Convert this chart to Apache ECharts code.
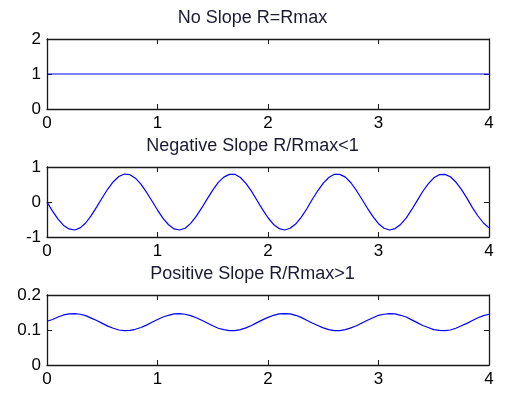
<!DOCTYPE html>
<html>
<head>
<meta charset="utf-8">
<script src="https://cdn.jsdelivr.net/npm/echarts@6/dist/echarts.min.js"></script>
<style>
  html, body { margin: 0; padding: 0; background: #fff; }
  #chart { width: 505px; height: 394px; }
</style>
</head>
<body>
<div id="chart"></div>
<script>
var titles = ['No Slope R=Rmax', 'Negative Slope R/Rmax<1', 'Positive Slope R/Rmax>1'];
var xTicks = [0, 1, 2, 3, 4];

// x samples
var xs = [0, 0.05, 0.1, 0.15, 0.2, 0.25, 0.3, 0.35, 0.4, 0.45,
  0.5, 0.55, 0.6, 0.65, 0.7, 0.75, 0.8, 0.85, 0.9, 0.95,
  1, 1.05, 1.1, 1.15, 1.2, 1.25, 1.3, 1.35, 1.4, 1.45,
  1.5, 1.55, 1.6, 1.65, 1.7, 1.75, 1.8, 1.85, 1.9, 1.95,
  2, 2.05, 2.1, 2.15, 2.2, 2.25, 2.3, 2.35, 2.4, 2.45,
  2.5, 2.55, 2.6, 2.65, 2.7, 2.75, 2.8, 2.85, 2.9, 2.95,
  3, 3.05, 3.1, 3.15, 3.2, 3.25, 3.3, 3.35, 3.4, 3.45,
  3.5, 3.55, 3.6, 3.65, 3.7, 3.75, 3.8, 3.85, 3.9, 3.95, 4];

// top panel
var flatX = [0, 4];
var flatY = [1, 1];

// middle panel
var negY = [0, -0.26, -0.49, -0.67, -0.77, -0.80, -0.74, -0.60, -0.39, -0.14,
  0.12, 0.37, 0.58, 0.73, 0.80, 0.78, 0.68, 0.51, 0.28, 0.03,
  -0.23, -0.47, -0.65, -0.77, -0.80, -0.75, -0.61, -0.41, -0.17, 0.09,
  0.34, 0.56, 0.71, 0.79, 0.79, 0.70, 0.53, 0.31, 0.05, -0.21,
  -0.45, -0.64, -0.76, -0.80, -0.75, -0.63, -0.44, -0.20, 0.07, 0.32,
  0.54, 0.70, 0.79, 0.79, 0.71, 0.55, 0.33, 0.08, -0.18, -0.42,
  -0.62, -0.75, -0.80, -0.76, -0.64, -0.46, -0.22, 0.04, 0.30, 0.52,
  0.69, 0.78, 0.79, 0.72, 0.57, 0.36, 0.11, -0.16, -0.40, -0.60, -0.74];

// bottom panel
var posY = [0.125, 0.130, 0.137, 0.143, 0.146, 0.147, 0.145, 0.141, 0.134, 0.127,
  0.119, 0.111, 0.105, 0.100, 0.098, 0.099, 0.102, 0.107, 0.114, 0.122,
  0.130, 0.137, 0.142, 0.146, 0.147, 0.145, 0.141, 0.135, 0.128, 0.120,
  0.112, 0.105, 0.101, 0.098, 0.098, 0.101, 0.106, 0.113, 0.121, 0.129,
  0.136, 0.142, 0.146, 0.147, 0.146, 0.142, 0.136, 0.128, 0.120, 0.113,
  0.106, 0.101, 0.098, 0.098, 0.101, 0.106, 0.112, 0.120, 0.128, 0.135,
  0.142, 0.145, 0.147, 0.146, 0.142, 0.137, 0.129, 0.121, 0.113, 0.107,
  0.101, 0.099, 0.098, 0.100, 0.105, 0.112, 0.119, 0.127, 0.135, 0.141, 0.145];

var yRanges = [[0, 2, 1], [-1, 1, 1], [0, 0.2, 0.1]];
var gridTops = [39, 167, 295];

var FontFamily = 'Liberation Sans, Arial, sans-serif';
var BoxColor = '#1a1a1a';

function pairs(x, y) {
  return x.map(function (v, i) { return [v, y[i]]; });
}

function boxAxis(extra) {
  var a = {
    type: 'value',
    axisLine: { show: true, onZero: false, lineStyle: { color: BoxColor, width: 1.3 } },
    axisTick: { show: true, inside: true, length: 5, lineStyle: { color: BoxColor } },
    axisLabel: { show: false },
    splitLine: { show: false }
  };
  for (var k in extra) a[k] = extra[k];
  return a;
}

var tickLabel = { show: true, margin: 6, fontFamily: FontFamily, fontSize: 17, color: '#000' };

var grids = [], xAxes = [], yAxes = [], titleList = [];
for (var i = 0; i < 3; i++) {
  grids.push({ left: 47, right: 16, top: gridTops[i], height: 70, show: false });
  titleList.push({
    text: titles[i],
    left: 'center',
    top: gridTops[i] - 35,
    textStyle: { fontFamily: FontFamily, fontSize: 18, fontWeight: 'normal', color: '#1a1a33' }
  });
  xAxes.push(boxAxis({ gridIndex: i, min: 0, max: 4, interval: 1, position: 'bottom',
    axisLabel: { show: true, margin: 6, fontFamily: FontFamily, fontSize: 17, color: '#000',
      formatter: function (v) { return xTicks.indexOf(v) >= 0 ? String(v) : ''; } } }));
  xAxes.push(boxAxis({ gridIndex: i, min: 0, max: 4, interval: 1, position: 'top' }));
  yAxes.push(boxAxis({ gridIndex: i, min: yRanges[i][0], max: yRanges[i][1], interval: yRanges[i][2],
    position: 'left', axisLabel: tickLabel }));
  yAxes.push(boxAxis({ gridIndex: i, min: yRanges[i][0], max: yRanges[i][1], interval: yRanges[i][2],
    position: 'right' }));
}

var lineStyle = { color: '#0000ff', width: 1.2 };

var option = {
  animation: false,
  backgroundColor: '#fff',
  title: titleList,
  grid: grids,
  xAxis: xAxes,
  yAxis: yAxes,
  series: [
    { type: 'line', xAxisIndex: 0, yAxisIndex: 0, data: pairs(flatX, flatY), showSymbol: false, lineStyle: lineStyle },
    { type: 'line', xAxisIndex: 2, yAxisIndex: 2, data: pairs(xs, negY), showSymbol: false, lineStyle: lineStyle },
    { type: 'line', xAxisIndex: 4, yAxisIndex: 4, data: pairs(xs, posY), showSymbol: false, lineStyle: lineStyle }
  ]
};

var chart = echarts.init(document.getElementById('chart'));
chart.setOption(option);
</script>
</body>
</html>
